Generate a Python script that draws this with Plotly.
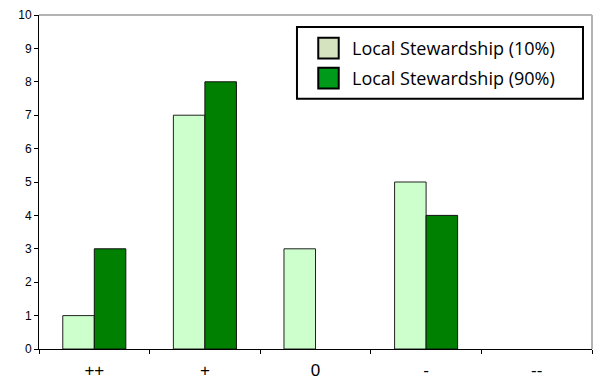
import plotly.graph_objects as go

categories = ["++", "+", "0", "-", "--"]
ls10 = [1, 7, 3, 5, 0]
ls90 = [3, 8, 0, 4, 0]
series_names = ["Local Stewardship (10%)", "Local Stewardship (90%)"]
bar_colors = ["#ccffcc", "#008000"]
legend_colors = ["#d5e3bf", "#009a1a"]

fig = go.Figure()
fig.add_trace(go.Bar(x=categories, y=ls10, name=series_names[0], marker_color=bar_colors[0],
                     marker_line=dict(color="#222222", width=[1 if v else 0 for v in ls10]),
                     showlegend=False))
fig.add_trace(go.Bar(x=categories, y=ls90, name=series_names[1], marker_color=bar_colors[1],
                     marker_line=dict(color="#111111", width=[1 if v else 0 for v in ls90]),
                     showlegend=False))

fig.update_layout(
    width=599, height=384,
    margin=dict(l=39, r=7, t=15, b=35),
    plot_bgcolor="white", paper_bgcolor="white",
    barmode="group", bargap=0.43, bargroupgap=0,
    showlegend=False,
    font=dict(family="Liberation Sans, Arial", color="black"),
)
fig.update_yaxes(range=[0, 10], dtick=1, showgrid=False, showline=True, linecolor="black",
                 linewidth=1, ticks="outside", ticklen=4, tickcolor="black",
                 tickfont=dict(size=12, family="Liberation Sans"), zeroline=False,
                 automargin=False)
fig.update_xaxes(showgrid=False, showline=True, linecolor="black", linewidth=1,
                 ticks="outside", tickson="boundaries", ticklen=4, tickcolor="black",
                 tickfont=dict(size=17, family="Liberation Sans"), ticklabelstandoff=6,
                 automargin=False)

# gray top/right frame
fig.add_shape(type="line", xref="paper", yref="paper", x0=0, x1=1, y0=1, y1=1,
              line=dict(color="#b3b3b3", width=2))
fig.add_shape(type="line", xref="paper", yref="paper", x0=1, x1=1, y0=0, y1=1,
              line=dict(color="#b3b3b3", width=2))

# manual legend box
fig.add_shape(type="rect", xref="paper", yref="paper", x0=0.4665, x1=0.9837, y0=0.749, y1=0.964,
              line=dict(color="black", width=2), fillcolor="white")
ys = [0.901, 0.811]
for i in range(2):
    fig.add_shape(type="rect", xref="paper", yref="paper", x0=0.505, x1=0.542,
                  y0=ys[i] - 0.031, y1=ys[i] + 0.031,
                  line=dict(color="black", width=2), fillcolor=legend_colors[i])
    fig.add_annotation(xref="paper", yref="paper", x=0.563, y=ys[i], text=series_names[i],
                       showarrow=False, xanchor="left", yanchor="middle",
                       font=dict(family="Open Sans", size=18, color="black"))

fig.write_html("out.html")
